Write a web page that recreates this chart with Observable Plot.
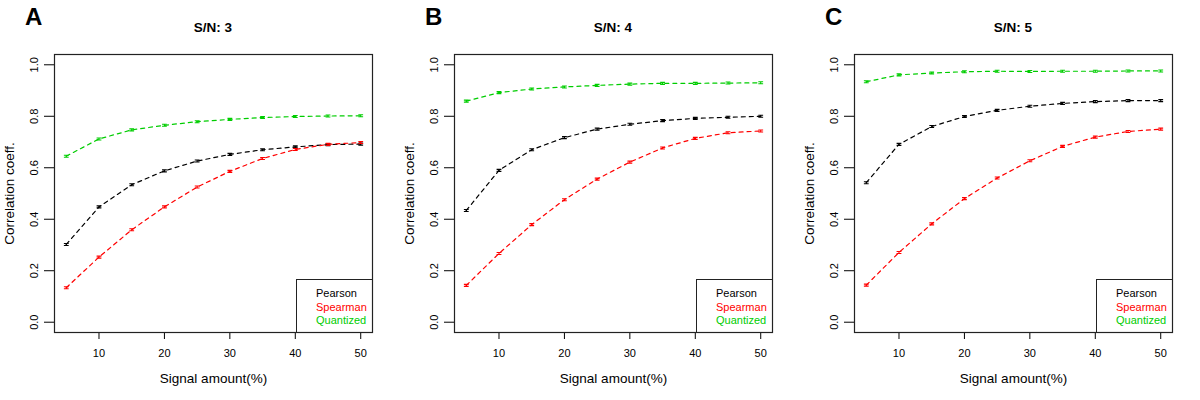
<!DOCTYPE html>
<html>
<head>
<meta charset="utf-8">
<script src="https://cdn.jsdelivr.net/npm/d3@7"></script>
<script src="https://cdn.jsdelivr.net/npm/@observablehq/plot@0.6"></script>
<style>
  body { margin: 0; background: white; font-family: "Liberation Sans", Arial, sans-serif; }
  #row { display: flex; width: 1200px; height: 400px; }
  .panel { position: relative; width: 400px; height: 400px; }
  .letter { position: absolute; left: 25px; top: 5px; font-size: 24px; font-weight: bold; line-height: 1; }
  .title { position: absolute; left: 54px; width: 318px; top: 21px; text-align: center; font-size: 13.5px; font-weight: bold; line-height: 1; }
  .legend { position: absolute; left: 296px; top: 279px; width: 75px; height: 52px; border: 1px solid #222; box-sizing: content-box; font-size: 11px; line-height: 13.5px; padding: 0; }
  .legend div { position: absolute; left: 19px; }
  g[aria-label="x-axis label"], g[aria-label="y-axis label"] { font-size: 13.5px; }
</style>
</head>
<body>
<div id="row"></div>
<script>
const signal = [5, 10, 15, 20, 25, 30, 35, 40, 45, 50];
const seriesNames = ["Pearson", "Spearman", "Quantized"];
const seriesColors = ["#000000", "#ff0000", "#00cd00"];
const panelLetters = ["A", "B", "C"];
const panelTitles = ["S/N: 3", "S/N: 4", "S/N: 5"];
const xTicks = [10, 20, 30, 40, 50];
const yTicks = [0, 0.2, 0.4, 0.6, 0.8, 1.0];

const pearsonA   = [0.302, 0.448, 0.534, 0.588, 0.626, 0.652, 0.670, 0.681, 0.690, 0.692];
const spearmanA  = [0.134, 0.253, 0.359, 0.448, 0.525, 0.586, 0.636, 0.671, 0.691, 0.698];
const quantizedA = [0.645, 0.712, 0.747, 0.765, 0.779, 0.788, 0.795, 0.799, 0.801, 0.802];

const pearsonB   = [0.434, 0.590, 0.670, 0.717, 0.750, 0.769, 0.783, 0.792, 0.796, 0.800];
const spearmanB  = [0.143, 0.267, 0.379, 0.476, 0.556, 0.622, 0.677, 0.714, 0.736, 0.743];
const quantizedB = [0.859, 0.892, 0.906, 0.914, 0.920, 0.925, 0.928, 0.928, 0.929, 0.930];

const pearsonC   = [0.542, 0.691, 0.760, 0.799, 0.823, 0.839, 0.850, 0.857, 0.861, 0.861];
const spearmanC  = [0.144, 0.271, 0.382, 0.480, 0.560, 0.627, 0.683, 0.719, 0.741, 0.750];
const quantizedC = [0.934, 0.961, 0.968, 0.973, 0.975, 0.974, 0.975, 0.975, 0.976, 0.976];

const panels = [
  [pearsonA, spearmanA, quantizedA],
  [pearsonB, spearmanB, quantizedB],
  [pearsonC, spearmanC, quantizedC]
];

// small error-bar glyph
const errBar = {
  draw(ctx) {
    const w = 2.4, h = 1.0;
    ctx.moveTo(-w, -h); ctx.lineTo(w, -h);
    ctx.moveTo(-w, h); ctx.lineTo(w, h);
    ctx.moveTo(0, -h); ctx.lineTo(0, h);
  }
};

const row = document.getElementById("row");

panels.forEach((vals, p) => {
  const data = [];
  vals.forEach((arr, s) => arr.forEach((v, i) => data.push({series: seriesNames[s], x: signal[i], y: v})));

  const chart = Plot.plot({
    width: 400,
    height: 400,
    marginLeft: 54,
    marginRight: 28,
    marginTop: 54,
    marginBottom: 68,
    style: {fontFamily: "'Liberation Sans', Arial, sans-serif", fontSize: "11px", background: "white", color: "black", overflow: "visible"},
    x: {domain: [3.2, 51.8]},
    y: {domain: [-0.04, 1.04]},
    color: {domain: seriesNames, range: seriesColors},
    marks: [
      Plot.axisX({ticks: xTicks, tickSize: 7, tickPadding: 10, label: "Signal amount(%)", labelAnchor: "center", labelOffset: 50, labelArrow: "none"}),
      Plot.axisY({ticks: yTicks, tickSize: 10, tickPadding: 6.5, tickRotate: -90, tickFormat: d3.format(".1f"), label: "Correlation coeff.", labelAnchor: "center", labelOffset: 50, labelArrow: "none"}),
      Plot.line(data, {x: "x", y: "y", z: "series", stroke: "series", strokeWidth: 1.2, strokeDasharray: "4,4"}),
      Plot.dot(data, {x: "x", y: "y", stroke: "series", symbol: errBar, strokeWidth: 1.1}),
      Plot.frame({stroke: "#222", strokeWidth: 1.2})
    ]
  });

  const panel = document.createElement("div");
  panel.className = "panel";
  panel.appendChild(chart);

  const letter = document.createElement("div");
  letter.className = "letter";
  letter.textContent = panelLetters[p];
  panel.appendChild(letter);

  const title = document.createElement("div");
  title.className = "title";
  title.textContent = panelTitles[p];
  panel.appendChild(title);

  const legend = document.createElement("div");
  legend.className = "legend";
  seriesNames.forEach((name, s) => {
    const d = document.createElement("div");
    d.textContent = name;
    d.style.color = seriesColors[s];
    d.style.top = (7 + s * 13.5) + "px";
    legend.appendChild(d);
  });
  panel.appendChild(legend);

  row.appendChild(panel);
});
</script>
</body>
</html>
